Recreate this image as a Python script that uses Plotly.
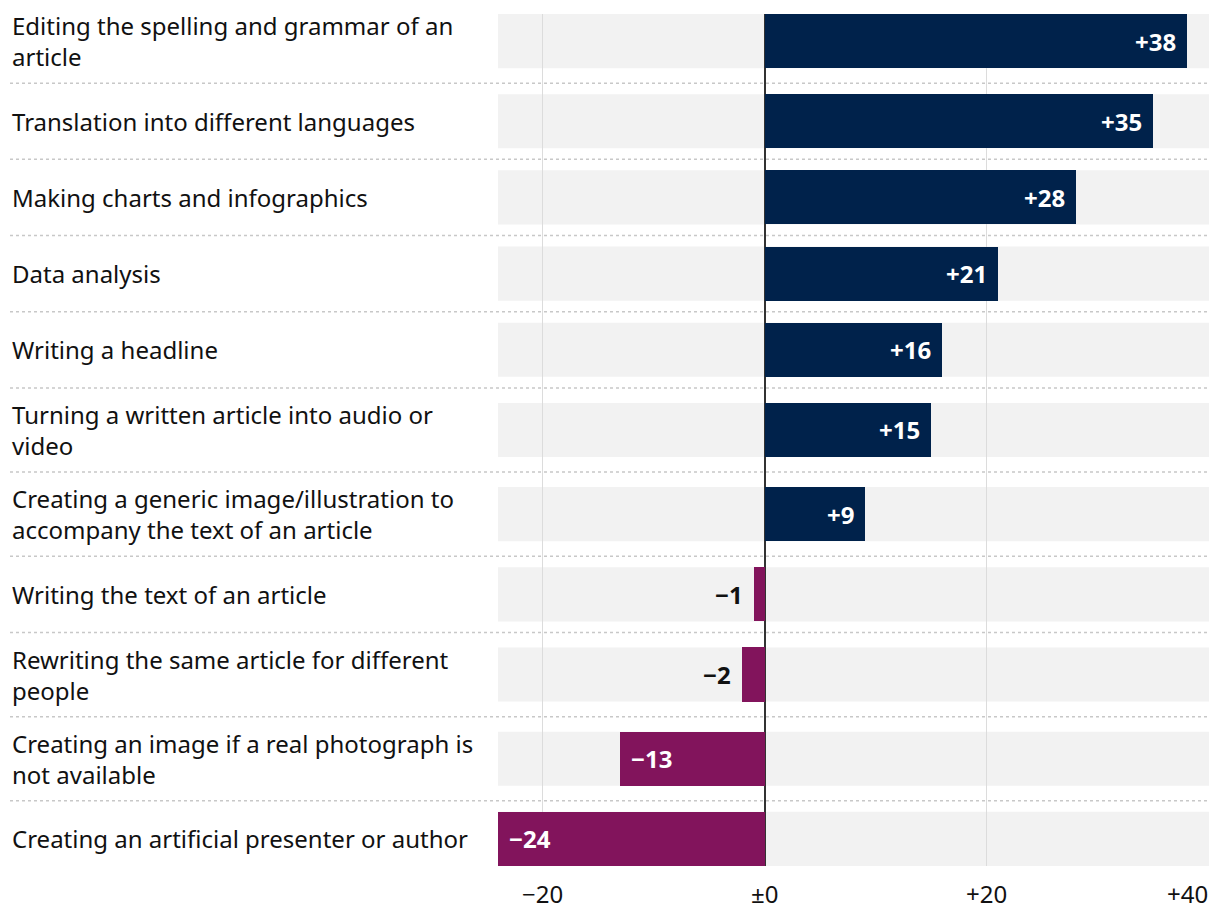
import plotly.graph_objects as go

# ---------------- data ----------------
categories = [
    "Editing the spelling and grammar of an<br>article",
    "Translation into different languages",
    "Making charts and infographics",
    "Data analysis",
    "Writing a headline",
    "Turning a written article into audio or<br>video",
    "Creating a generic image/illustration to<br>accompany the text of an article",
    "Writing the text of an article",
    "Rewriting the same article for different<br>people",
    "Creating an image if a real photograph is<br>not available",
    "Creating an artificial presenter or author",
]
values = [38, 35, 28, 21, 16, 15, 9, -1, -2, -13, -24]
tick_vals = [-20, 0, 20, 40]
tick_text = ["\u221220", "\u00b10", "+20", "+40"]
x_range = [-24, 40]

# ---------------- style / geometry ----------------
POS_COLOR = "#00224b"
NEG_COLOR = "#82145c"
BAND_COLOR = "#f2f2f2"
TEXT_COLOR = "#111111"
FONT = "Noto Sans"
BAR_H = 54
GAP = 22
EXTRA_PER_LINE = 8

n_lines = [c.count("<br>") + 1 for c in categories]
heights = [BAR_H + GAP + EXTRA_PER_LINE * (k - 1) for k in n_lines]
centers = []
acc = 0
for h in heights:
    centers.append(acc + h / 2)
    acc += h
boundaries = [centers[i] + heights[i] / 2 for i in range(len(centers) - 1)]
y_top = centers[0] - BAR_H / 2
y_bot = centers[-1] + BAR_H / 2


def fmt(v):
    return ("+" if v > 0 else "\u2212") + str(abs(v))


colors = [POS_COLOR if v >= 0 else NEG_COLOR for v in values]

fig = go.Figure()
fig.add_trace(go.Bar(
    x=values, y=centers, orientation="h", width=BAR_H,
    marker=dict(color=colors, line=dict(width=0)),
    hoverinfo="skip", showlegend=False,
))

shapes = []
for c in centers:
    shapes.append(dict(type="rect", xref="x domain", yref="y", x0=0, x1=1,
                       y0=c - BAR_H / 2, y1=c + BAR_H / 2,
                       fillcolor=BAND_COLOR, line=dict(width=0), layer="below"))
for b in boundaries:
    shapes.append(dict(type="line", xref="paper", yref="y", x0=0, x1=1,
                       y0=b, y1=b, line=dict(color="#c8c8c8", width=1.5, dash="dot"),
                       layer="below"))

annotations = []
for cat, c in zip(categories, centers):
    annotations.append(dict(xref="paper", yref="y", x=0, y=c, text=cat,
                            xanchor="left", yanchor="middle", align="left",
                            showarrow=False,
                            font=dict(family=FONT, size=24, color=TEXT_COLOR)))
for v, c in zip(values, centers):
    inside = abs(v) >= 5
    label = "<b>" + fmt(v) + "</b>"
    if v >= 0:
        annotations.append(dict(xref="x", yref="y", x=v, y=c, text=label,
                                xanchor="right", yanchor="middle", xshift=-9,
                                showarrow=False,
                                font=dict(family=FONT, size=24, color="white")))
    elif inside:
        annotations.append(dict(xref="x", yref="y", x=v, y=c, text=label,
                                xanchor="left", yanchor="middle", xshift=9,
                                showarrow=False,
                                font=dict(family=FONT, size=24, color="white")))
    else:
        annotations.append(dict(xref="x", yref="y", x=v, y=c, text=label,
                                xanchor="right", yanchor="middle", xshift=-9,
                                showarrow=False,
                                font=dict(family=FONT, size=24, color=TEXT_COLOR)))

# tick labels (last one right-aligned to its gridline, as in the original)
for i, (tv, tt) in enumerate(zip(tick_vals, tick_text)):
    last = i == len(tick_vals) - 1
    annotations.append(dict(xref="x", yref="paper", x=tv, y=0, text=tt,
                            xanchor="right" if last else "center", yanchor="top",
                            yshift=-9, xshift=1 if last else 0, showarrow=False,
                            font=dict(family=FONT, size=24, color=TEXT_COLOR)))

# page body has an 8px default margin; size the figure to fit the 1220x918 window
fig.update_layout(
    width=1212, height=910,
    margin=dict(l=2, r=11, t=6, b=52),
    plot_bgcolor="white", paper_bgcolor="white",
    bargap=0,
    shapes=shapes, annotations=annotations,
    font=dict(family=FONT, color=TEXT_COLOR),
    xaxis=dict(domain=[488 / 1199, 1], range=x_range,
               tickvals=tick_vals, showticklabels=False,
               showgrid=True, gridcolor="#dcdcdc", gridwidth=1,
               zeroline=True, zerolinecolor="#333333", zerolinewidth=1.5,
               showline=False, ticks="", fixedrange=True),
    yaxis=dict(range=[y_bot, y_top], showgrid=False, zeroline=False,
               showticklabels=False, ticks="", showline=False, fixedrange=True),
)

fig.write_html("out.html")
